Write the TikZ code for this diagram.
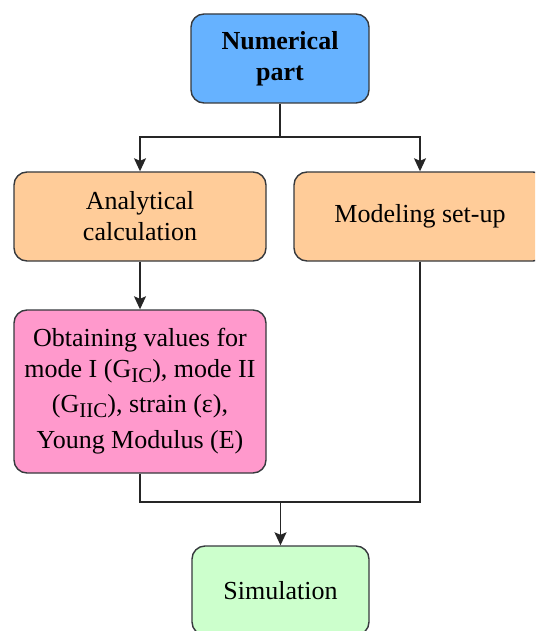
\documentclass[tikz,border=0pt]{standalone}
\usepackage{fontspec}
\setmainfont{Liberation Serif}
\usetikzlibrary{arrows.meta}
\definecolor{cblue}{HTML}{66B2FF}
\definecolor{corange}{HTML}{FFCC99}
\definecolor{cpink}{HTML}{FF99CC}
\definecolor{cgreen}{HTML}{CCFFCC}
\definecolor{cborder}{HTML}{36393D}
\newcommand{\mysub}[1]{\raisebox{-5pt}{\fontsize{21}{21}\selectfont #1}}
\tikzset{
  box/.style={draw=cborder, line width=1.4pt, rounded corners=13pt, inner sep=0pt,
    align=center, font=\fontsize{26}{31}\selectfont, text=black},
  conn/.style={draw=black!85, line width=1.4pt},
  arr/.style={conn, -{Stealth[length=13pt,width=12pt,inset=2.5pt]}},
}
\begin{document}
\begin{tikzpicture}[x=1pt,y=-1pt]
\useasboundingbox (0,0) rectangle (535,631);
\clip (0,0) rectangle (535,631);
\node[box, fill=cblue, minimum width=178pt, minimum height=89pt, font=\fontsize{26}{31}\selectfont\bfseries] (num) at (280,58.5) {Numerical\\part};
\node[box, fill=corange, minimum width=252pt, minimum height=89pt] (ana) at (140,216.5) {Analytical\\calculation};
\node[box, fill=corange, minimum width=252pt, minimum height=89pt] (mod) at (420,216.5) {Modeling set-up};
\node[box, fill=cpink, minimum width=252pt, minimum height=163pt] (pink) at (140,391.5) {Obtaining values for\\mode I (G\mysub{IC}), mode II\\[4pt](G\mysub{IIC}), strain (ε),\\[5pt]Young Modulus (E)};
\node[box, fill=cgreen, minimum width=177pt, minimum height=89pt] (sim) at (280.5,590.5) {Simulation};
\coordinate (j) at (280,137);
\coordinate (m) at (280.5,502);
\draw[conn] (num.south) -- (j);
\draw[arr] (j) -| (ana.north);
\draw[arr] (j) -| (mod.north);
\draw[arr] (ana.south) -- (pink.north);
\draw[conn] (pink.south) |- (m);
\draw[conn] (mod.south) |- (m);
\draw[arr] (m) -- (sim.north);
\end{tikzpicture}
\end{document}
